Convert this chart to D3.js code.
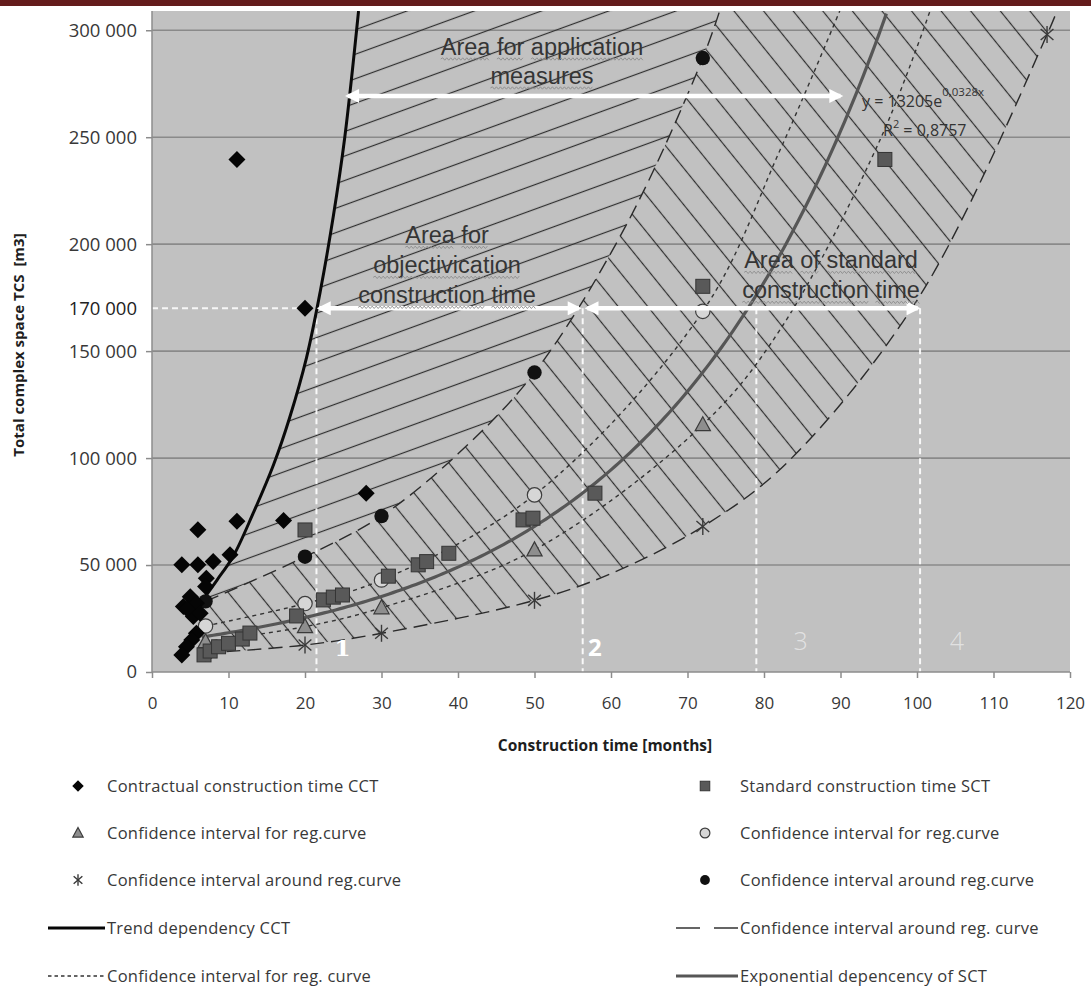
<!DOCTYPE html>
<html>
<head>
<meta charset="utf-8">
<script src="https://cdn.jsdelivr.net/npm/d3@7"></script>
<style>
  html, body { margin: 0; padding: 0; background: #ffffff; }
  svg { display: block; }
</style>
</head>
<body>
<svg id="chart" width="1091" height="989"></svg>
<script>
// ---------------- data ----------------
// Contractual construction time (CCT) observations: months / total complex space m3
const cctMonths = [3.9, 6.0, 8.0, 10.2, 6.0, 11.1, 17.2, 7.1, 7.0, 4.1, 5.0, 5.8, 5.4, 6.3, 4.6, 5.8, 5.2, 4.5, 3.9, 11.1, 20.0, 28.0];
const cctSpace  = [50100, 66500, 51600, 54800, 50100, 70500, 70800, 43800, 40000, 30600, 35200, 32100, 25900, 27500, 29500, 18100, 15000, 11800, 8000, 239600, 170000, 83600];

// Standard construction time (SCT) observations
const sctMonths = [6.8, 7.6, 8.7, 10.0, 11.8, 12.8, 18.9, 20.0, 22.4, 23.7, 24.9, 30.9, 34.8, 35.9, 38.8, 48.5, 49.8, 57.9, 72.0, 95.8];
const sctSpace  = [8000, 9800, 11800, 13400, 15400, 18200, 26200, 66400, 33700, 35000, 36000, 44800, 50100, 51600, 55500, 71100, 71900, 83600, 180300, 239600];

// Interval points evaluated at fixed construction times
const intervalMonths = [7, 20, 30, 50, 72];
const ciForHigh      = [21500, 32000, 43000, 82800, 168600];   // open circles
const ciForLow       = [14200, 21200, 30000, 57100, 115600];   // triangles
const ciAroundHigh   = [33000, 53900, 72900, 140000, 287000];  // filled circles
const ciAroundLowMonths = [7, 20, 30, 50, 72, 117];
const ciAroundLow       = [8900, 12600, 18100, 33500, 68000, 298000]; // asterisks

// Curves through the interval points, continued to the top of the plot
const ciForHighCurveMonths  = [7, 20, 30, 50, 72, 82.1, 89.9];
const ciForHighCurveSpace   = [21500, 32000, 43000, 82800, 168600, 244000, 309000];
const ciForLowCurveMonths   = [7, 20, 30, 50, 72, 82.1, 95.2, 101.7];
const ciForLowCurveSpace    = [14200, 21200, 30000, 57100, 115600, 160000, 249000, 309000];
const ciAroundHighCurveMonths = [7, 20, 30, 40, 50, 62, 72, 74.2];
const ciAroundHighCurveSpace  = [33000, 53900, 72900, 102000, 140000, 209000, 287000, 309000];
const ciAroundLowCurveMonths  = [7, 20, 30, 50, 60, 72, 83, 100.4, 117, 118.3];
const ciAroundLowCurveSpace   = [8900, 12600, 18100, 33500, 46000, 68000, 97800, 176000, 298000, 309000];

// Trend dependency of CCT
const cctTrendMonths = [6.7, 8.5, 10.6, 13.2, 15.9, 18.0, 20.2, 22.0, 23.7, 25.2, 27.0];
const cctTrendSpace  = [34000, 43000, 54000, 74000, 97000, 119000, 147000, 178000, 213000, 250000, 309000];

// Exponential dependency of SCT: y = a * e^(b x)
const sctFitA = 13205;
const sctFitB = 0.0328;
const sctFitR2 = 0.8757;
const sctFitRange = [6.5, 96.3];

// Axis ticks and reference level
const xTicks = [0, 10, 20, 30, 40, 50, 60, 70, 80, 90, 100, 110, 120];
const yTicks = [0, 50000, 100000, 150000, 200000, 250000, 300000];
const refSpace = 170000;
const zoneBounds = [21.5, 56.3, 79.0, 100.4];
const zoneLabels = ["1", "2", "3", "4"];

// ---------------- layout ----------------
const W = 1091, H = 989;
const P = { left: 152, right: 1070, top: 11, bottom: 672 };
const svg = d3.select("#chart");
const defs = svg.append("defs");

const x = d3.scaleLinear().domain([0, 120]).range([P.left, P.right]);
const y = d3.scaleLinear().domain([0, 309000]).range([P.bottom, P.top]);
const fmt = d3.formatLocale({ decimal: ",", thousands: " ", grouping: [3], currency: ["", ""] }).format(",d");
const zip = (xs, ys) => xs.map((v, i) => [v, ys[i]]);

const FONT = "'Open Sans', 'DejaVu Sans', sans-serif";
const TEXT = "#383838";

// header band
svg.append("rect").attr("x", 0).attr("y", 0).attr("width", W).attr("height", 6).attr("fill", "#641c1c");

defs.append("clipPath").attr("id", "plotClip")
  .append("rect").attr("x", P.left).attr("y", P.top)
  .attr("width", P.right - P.left).attr("height", P.bottom - P.top);

// plot background
svg.append("rect").attr("x", P.left).attr("y", P.top)
  .attr("width", P.right - P.left).attr("height", P.bottom - P.top)
  .attr("fill", "#c1c1c1");

// horizontal gridlines
svg.append("g").selectAll("line").data(yTicks.filter(d => d > 0)).join("line")
  .attr("x1", P.left).attr("x2", P.right)
  .attr("y1", d => y(d)).attr("y2", d => y(d))
  .attr("stroke", "#8a8a8a").attr("stroke-width", 1.6);

// ---------------- hatched areas ----------------
function hatch(id, angle, spacing) {
  const p = defs.append("pattern").attr("id", id)
    .attr("patternUnits", "userSpaceOnUse")
    .attr("width", spacing).attr("height", spacing)
    .attr("patternTransform", `rotate(${angle})`);
  p.append("line").attr("x1", -1).attr("x2", spacing + 1)
    .attr("y1", spacing / 2).attr("y2", spacing / 2)
    .attr("stroke", "#2e2e2e").attr("stroke-width", 1.2);
}
hatch("hatchUp", -20, 23);
hatch("hatchDown", 51, 23);

const curveGen = d3.line().x(d => x(d[0])).y(d => y(d[1])).curve(d3.curveCatmullRom.alpha(0.5));
function band(first, second) {
  const a = curveGen(first);
  const b = curveGen(second.slice().reverse());
  return a + "L" + b.slice(1) + "Z";
}
const cctTrend = zip(cctTrendMonths, cctTrendSpace);
const aroundHigh = zip(ciAroundHighCurveMonths, ciAroundHighCurveSpace);
const aroundLow = zip(ciAroundLowCurveMonths, ciAroundLowCurveSpace);
const forHigh = zip(ciForHighCurveMonths, ciForHighCurveSpace);
const forLow = zip(ciForLowCurveMonths, ciForLowCurveSpace);

const plot = svg.append("g").attr("clip-path", "url(#plotClip)");
plot.append("path").attr("d", band(cctTrend, aroundHigh)).attr("fill", "url(#hatchUp)");
plot.append("path").attr("d", band(aroundHigh, aroundLow)).attr("fill", "url(#hatchDown)");

// ---------------- reference lines ----------------
const white = plot.append("g").attr("stroke", "#ffffff").attr("stroke-width", 2)
  .attr("stroke-dasharray", "6,4").attr("fill", "none");
white.append("line").attr("x1", P.left).attr("x2", x(19.4))
  .attr("y1", y(refSpace)).attr("y2", y(refSpace)).attr("stroke-opacity", 0.85);
white.selectAll("line.zone").data(zoneBounds).join("line").attr("class", "zone")
  .attr("x1", d => x(d)).attr("x2", d => x(d))
  .attr("y1", y(refSpace)).attr("y2", P.bottom).attr("stroke-opacity", 0.9);

// ---------------- curves ----------------
plot.append("path").attr("d", curveGen(aroundHigh)).attr("fill", "none")
  .attr("stroke", "#2b2b2b").attr("stroke-width", 1.4).attr("stroke-dasharray", "14,7");
plot.append("path").attr("d", curveGen(aroundLow)).attr("fill", "none")
  .attr("stroke", "#2b2b2b").attr("stroke-width", 1.4).attr("stroke-dasharray", "14,7");
plot.append("path").attr("d", curveGen(forHigh)).attr("fill", "none")
  .attr("stroke", "#333").attr("stroke-width", 1.4).attr("stroke-dasharray", "4,4");
plot.append("path").attr("d", curveGen(forLow)).attr("fill", "none")
  .attr("stroke", "#333").attr("stroke-width", 1.4).attr("stroke-dasharray", "4,4");

const fitPts = d3.range(sctFitRange[0], sctFitRange[1] + 0.001, 0.5).map(m => [m, sctFitA * Math.exp(sctFitB * m)]);
plot.append("path").attr("d", d3.line().x(d => x(d[0])).y(d => y(d[1]))(fitPts))
  .attr("fill", "none").attr("stroke", "#565656").attr("stroke-width", 3.2);
plot.append("path").attr("d", curveGen(cctTrend)).attr("fill", "none")
  .attr("stroke", "#0a0a0a").attr("stroke-width", 3);

// ---------------- markers ----------------
function marker(g, kind, k) {
  k = k || 1;
  if (kind === "diamond") {
    const r = 8.5 * k;
    g.append("path").attr("d", `M0,${-r}L${r},0L0,${r}L${-r},0Z`).attr("fill", "#050505");
  } else if (kind === "square") {
    const s = 14 * k;
    g.append("rect").attr("x", -s / 2).attr("y", -s / 2).attr("width", s).attr("height", s)
      .attr("fill", "#595959").attr("stroke", "#353535").attr("stroke-width", 1);
  } else if (kind === "triangle") {
    const s = 8 * k;
    g.append("path").attr("d", `M0,${-s}L${s * 0.95},${s * 0.75}L${-s * 0.95},${s * 0.75}Z`)
      .attr("fill", "#8e8e8e").attr("stroke", "#3a3a3a").attr("stroke-width", 1.2);
  } else if (kind === "circleOpen") {
    g.append("circle").attr("r", 7.2 * k).attr("fill", "#d6d6d6").attr("stroke", "#3d3d3d").attr("stroke-width", 1.2);
  } else if (kind === "circleFilled") {
    g.append("circle").attr("r", 7.2 * k).attr("fill", "#111111");
  } else if (kind === "asterisk") {
    const r = 8.5 * k;
    const a = g.append("g").attr("stroke", "#3a3a3a").attr("stroke-width", 1.4);
    a.append("line").attr("x1", 0).attr("x2", 0).attr("y1", -r).attr("y2", r);
    a.append("line").attr("x1", -r * 0.75).attr("x2", r * 0.75).attr("y1", -r * 0.65).attr("y2", r * 0.65);
    a.append("line").attr("x1", -r * 0.75).attr("x2", r * 0.75).attr("y1", r * 0.65).attr("y2", -r * 0.65);
  }
}
function series(xs, ys, kind) {
  const g = svg.append("g");
  xs.forEach((m, i) => marker(g.append("g").attr("transform", `translate(${x(m)},${y(ys[i])})`), kind));
}
series(ciAroundLowMonths, ciAroundLow, "asterisk");
series(intervalMonths, ciForLow, "triangle");
series(intervalMonths, ciForHigh, "circleOpen");
series(intervalMonths, ciAroundHigh, "circleFilled");
series(sctMonths, sctSpace, "square");
series(cctMonths, cctSpace, "diamond");

// ---------------- axes ----------------
const axisColor = "#8c8c8c";
svg.append("line").attr("x1", P.left).attr("x2", P.left).attr("y1", P.top).attr("y2", P.bottom)
  .attr("stroke", axisColor).attr("stroke-width", 1.5);
svg.append("line").attr("x1", P.left).attr("x2", P.right).attr("y1", P.bottom).attr("y2", P.bottom)
  .attr("stroke", axisColor).attr("stroke-width", 1.5);

const yAxis = d3.axisLeft(y).tickValues(yTicks).tickFormat(fmt).tickSize(6).tickPadding(9);
const gy = svg.append("g").attr("transform", `translate(${P.left},0)`).call(yAxis);
gy.select(".domain").remove();
gy.selectAll(".tick line").attr("stroke", axisColor).attr("stroke-width", 1.5);
gy.selectAll(".tick text").attr("fill", TEXT).style("font-family", FONT).style("font-size", "18.5px");

const xAxis = d3.axisBottom(x).tickValues(xTicks).tickFormat(d3.format("d")).tickSize(6).tickPadding(19);
const gx = svg.append("g").attr("transform", `translate(0,${P.bottom})`).call(xAxis);
gx.select(".domain").remove();
gx.selectAll(".tick line").attr("stroke", axisColor).attr("stroke-width", 1.5);
gx.selectAll(".tick text").attr("fill", TEXT).style("font-family", FONT).style("font-size", "17px");

// reference level label on the value axis
svg.append("text").attr("x", P.left - 15).attr("y", y(refSpace)).attr("dy", "0.35em")
  .attr("text-anchor", "end").attr("fill", "#222")
  .style("font-family", FONT).style("font-size", "18.5px").text(fmt(refSpace));

// axis titles
svg.append("text").attr("transform", `translate(24,${345}) rotate(-90)`)
  .attr("text-anchor", "middle").attr("fill", "#1e1e1e")
  .style("font-family", FONT).style("font-weight", "bold").style("font-size", "15px")
  .style("white-space", "pre").text("Total complex space TCS  [m3]");
svg.append("text").attr("x", 605).attr("y", 751).attr("text-anchor", "middle").attr("fill", "#1e1e1e")
  .style("font-family", FONT).style("font-weight", "bold").style("font-size", "15.5px")
  .text("Construction time [months]");

// ---------------- annotations ----------------
const arrowHead = defs.append("marker").attr("id", "arrowHead")
  .attr("viewBox", "0 0 10 10").attr("refX", 8).attr("refY", 5)
  .attr("markerUnits", "userSpaceOnUse").attr("markerWidth", 17).attr("markerHeight", 14)
  .attr("orient", "auto-start-reverse");
arrowHead.append("path").attr("d", "M0,0L10,5L0,10Z").attr("fill", "#ffffff");

function arrow(m0, m1, level) {
  svg.append("line").attr("x1", x(m0)).attr("x2", x(m1)).attr("y1", y(level)).attr("y2", y(level))
    .attr("stroke", "#ffffff").attr("stroke-width", 4.5)
    .attr("marker-start", "url(#arrowHead)").attr("marker-end", "url(#arrowHead)");
}
arrow(25.6, 90.0, 269300);
arrow(21.9, 55.8, refSpace);
arrow(56.9, 100.1, refSpace);

function squiggles(node) {
  const str = node.textContent;
  const re = /\S+/g;
  let m;
  while ((m = re.exec(str))) {
    const s = node.getStartPositionOfChar(m.index);
    const e = node.getEndPositionOfChar(m.index + m[0].length - 1);
    const yy = s.y + 4;
    let d = `M${s.x},${yy}`;
    let up = true;
    for (let xx = s.x + 2; xx <= e.x; xx += 2) { d += `L${xx},${yy + (up ? -1.2 : 1.2)}`; up = !up; }
    svg.append("path").attr("d", d).attr("fill", "none").attr("stroke", "#8c8c8c").attr("stroke-width", 0.9);
  }
}
function areaText(lines, cx, baseline, gap) {
  lines.forEach((t, i) => {
    const el = svg.append("text").attr("x", cx).attr("y", baseline + i * gap)
      .attr("text-anchor", "middle").attr("fill", "#353535")
      .style("font-family", "'Liberation Sans', Arial, sans-serif").style("font-size", "23.5px").text(t);
    squiggles(el.node());
  });
}
areaText(["Area for application", "measures"], 542, 55, 29);
const refY = y(refSpace);
areaText(["Area for", "objectivication", "construction time"], 447, refY - 65, 30);
areaText(["Area of standard", "construction time"], 831, refY - 40, 30);

// regression equation
const eq = svg.append("text").attr("x", 862).attr("y", 107).attr("fill", "#333")
  .style("font-family", FONT).style("font-size", "16px");
eq.append("tspan").text(`y = ${sctFitA}e`);
eq.append("tspan").attr("dy", -11).style("font-size", "11.5px").text(`${String(sctFitB).replace(".", ",")}x`);
const r2 = svg.append("text").attr("x", 883).attr("y", 136).attr("fill", "#333")
  .style("font-family", FONT).style("font-size", "16px");
r2.append("tspan").text("R");
r2.append("tspan").attr("dy", -8).style("font-size", "11px").text("2");
r2.append("tspan").attr("dy", 8).text(` = ${String(sctFitR2).replace(".", ",")}`);

// zone numbers
const zoneStyle = [
  { m: 24.9, base: 656, font: "'DejaVu Serif', serif", weight: "bold", size: 23, op: 1 },
  { m: 57.9, base: 656, font: FONT, weight: "bold", size: 24, op: 1 },
  { m: 84.8, base: 650, font: FONT, weight: "300", size: 25, op: 0.55 },
  { m: 105.2, base: 650, font: FONT, weight: "300", size: 25, op: 0.55 }
];
zoneLabels.forEach((t, i) => {
  const s = zoneStyle[i];
  svg.append("text").attr("x", x(s.m)).attr("y", s.base).attr("text-anchor", "middle")
    .attr("fill", "#ffffff").attr("fill-opacity", s.op)
    .style("font-family", s.font).style("font-weight", s.weight).style("font-size", s.size + "px").text(t);
});

// ---------------- legend ----------------
const legendRows = [786, 833, 880, 928, 976];
const legendLeft = [
  { label: "Contractual construction time CCT", kind: "diamond" },
  { label: "Confidence interval for reg.curve", kind: "triangle" },
  { label: "Confidence interval around reg.curve", kind: "asterisk" },
  { label: "Trend dependency CCT", kind: "lineCct" },
  { label: "Confidence interval for reg. curve", kind: "lineFor" }
];
const legendRight = [
  { label: "Standard construction time SCT", kind: "square" },
  { label: "Confidence interval for reg.curve", kind: "circleOpen" },
  { label: "Confidence interval around reg.curve", kind: "circleFilled" },
  { label: "Confidence interval around reg. curve", kind: "lineAround" },
  { label: "Exponential depencency of SCT", kind: "lineSct" }
];
const lineStyles = {
  lineCct: { stroke: "#050505", width: 3, dash: null },
  lineFor: { stroke: "#333", width: 1.4, dash: "3.5,3" },
  lineAround: { stroke: "#333", width: 1.4, dash: "24,14" },
  lineSct: { stroke: "#565656", width: 3.2, dash: null }
};
function legendColumn(items, markerX, textX, lineX0, lineX1) {
  items.forEach((it, i) => {
    const cy = legendRows[i];
    if (lineStyles[it.kind]) {
      const st = lineStyles[it.kind];
      svg.append("line").attr("x1", lineX0).attr("x2", lineX1).attr("y1", cy).attr("y2", cy)
        .attr("stroke", st.stroke).attr("stroke-width", st.width).attr("stroke-dasharray", st.dash);
    } else {
      marker(svg.append("g").attr("transform", `translate(${markerX},${cy})`), it.kind, 0.68);
    }
    svg.append("text").attr("x", textX).attr("y", cy + 5.5).attr("fill", TEXT)
      .style("font-family", FONT).style("font-size", "16.5px").style("letter-spacing", "0.25px").text(it.label);
  });
}
legendColumn(legendLeft, 78, 107, 48, 105);
legendColumn(legendRight, 705, 740, 676, 738);
</script>
</body>
</html>
